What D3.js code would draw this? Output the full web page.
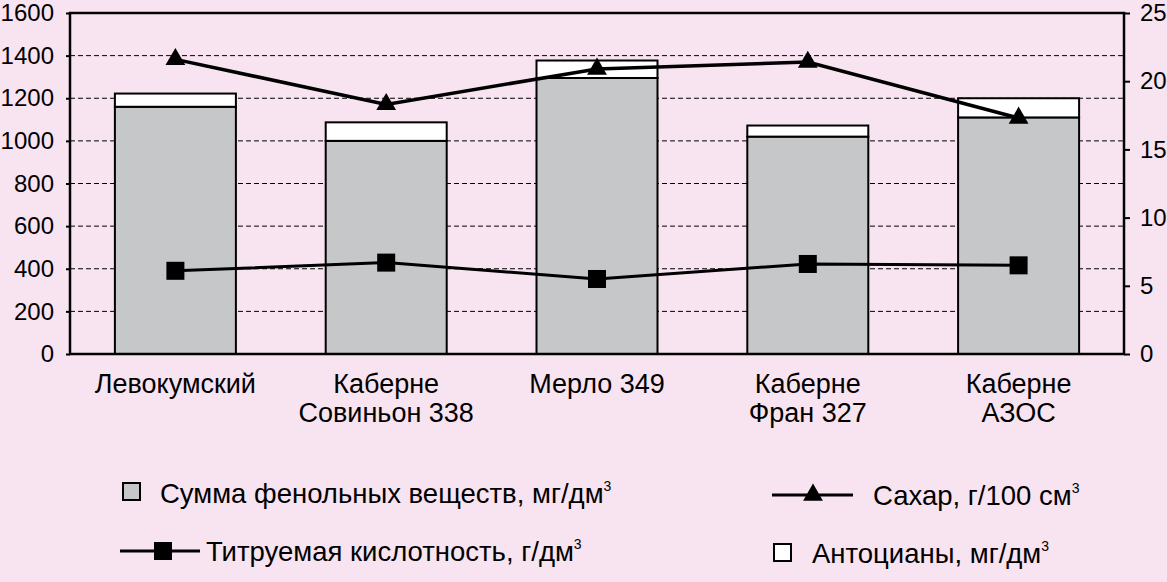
<!DOCTYPE html>
<html><head><meta charset="utf-8">
<script src="https://cdn.jsdelivr.net/npm/d3@7"></script>
<style>
html,body{margin:0;padding:0;background:#F8E3F0;}
svg{display:block;}
text{font-family:"Liberation Sans",Arial,sans-serif;fill:#000;}
</style></head>
<body><svg id="c" width="1167" height="582"></svg>
<script>
const categories = [["Левокумский"],["Каберне","Совиньон 338"],["Мерло 349"],["Каберне","Фран 327"],["Каберне","АЗОС"]];
const phenols = [1160, 1000, 1295, 1020, 1110];
const anthocyanins = [62, 87, 82, 52, 90];
const sugar = [21.6, 18.3, 20.9, 21.4, 17.3];
const acidity = [6.1, 6.7, 5.5, 6.6, 6.5];
const leftTicks = [0,200,400,600,800,1000,1200,1400,1600];
const rightTicks = [0,5,10,15,20,25];

const FF = '"Liberation Sans",Arial,sans-serif';
const svg = d3.select("#c");
const m = {l:70, r:1124, t:13, b:354};
const x = d3.scaleBand().domain(d3.range(categories.length)).range([m.l, m.r]).padding(0);
const yL = d3.scaleLinear().domain([0,1600]).range([m.b, m.t]);
const yR = d3.scaleLinear().domain([0,25]).range([m.b, m.t]);
const bw = x.bandwidth()*0.574;
const cx = i => x(i) + x.bandwidth()/2;

// gridlines
svg.append("g").selectAll("line").data(leftTicks.filter(d=>d>0 && d<1600)).join("line")
  .attr("x1",m.l).attr("x2",m.r).attr("y1",d=>yL(d)).attr("y2",d=>yL(d))
  .attr("stroke","#000").attr("stroke-width",1).attr("stroke-dasharray","5,3");

// bars
const bars = svg.append("g");
bars.selectAll("rect.ph").data(phenols).join("rect").attr("class","ph")
  .attr("x",(d,i)=>cx(i)-bw/2).attr("width",bw)
  .attr("y",d=>yL(d)).attr("height",d=>yL(0)-yL(d))
  .attr("fill","#C6C7C9").attr("stroke","#000").attr("stroke-width",2);
bars.selectAll("rect.an").data(anthocyanins).join("rect").attr("class","an")
  .attr("x",(d,i)=>cx(i)-bw/2).attr("width",bw)
  .attr("y",(d,i)=>yL(phenols[i]+d)).attr("height",(d,i)=>yL(phenols[i])-yL(phenols[i]+d))
  .attr("fill","#fff").attr("stroke","#000").attr("stroke-width",2);

// frame
svg.append("rect").attr("x",m.l).attr("y",m.t).attr("width",m.r-m.l).attr("height",m.b-m.t)
  .attr("fill","none").attr("stroke","#000").attr("stroke-width",2.5);

// axes
const axL = svg.append("g").attr("transform",`translate(${m.l},0)`)
  .call(d3.axisLeft(yL).tickValues(leftTicks).tickSize(4).tickPadding(12).tickFormat(d3.format("d")));
const axR = svg.append("g").attr("transform",`translate(${m.r},0)`)
  .call(d3.axisRight(yR).tickValues(rightTicks).tickSize(6).tickPadding(10).tickFormat(d3.format("d")));
[axL,axR].forEach(a=>{
  a.select(".domain").remove();
  a.selectAll(".tick line").attr("stroke","#000").attr("stroke-width",2);
  a.selectAll(".tick text").attr("font-size",24).style("font-family",FF).attr("fill","#000");
});

// category labels
const cl = svg.append("g");
categories.forEach((lines,i)=>{
  const t = cl.append("text").attr("x",cx(i)).attr("text-anchor","middle").attr("font-size",27);
  lines.forEach((s,j)=>t.append("tspan").attr("x",cx(i)).attr("y",393+j*29).text(s));
});

// lines
const lineS = d3.line().x((d,i)=>cx(i)).y(d=>yR(d));
svg.append("path").datum(sugar).attr("d",lineS).attr("fill","none").attr("stroke","#000").attr("stroke-width",3.5);
svg.append("path").datum(acidity).attr("d",lineS).attr("fill","none").attr("stroke","#000").attr("stroke-width",3);
const tri = d3.symbol().type(d3.symbolTriangle).size(170);
svg.append("g").selectAll("path").data(sugar).join("path")
  .attr("transform",(d,i)=>`translate(${cx(i)},${yR(d)})`).attr("d",tri).attr("fill","#000");
svg.append("g").selectAll("rect").data(acidity).join("rect")
  .attr("x",(d,i)=>cx(i)-9).attr("y",d=>yR(d)-9).attr("width",18).attr("height",18).attr("fill","#000");

// legend
const lg = svg.append("g");
function legText(xp,yp,main){
  const t = lg.append("text").attr("x",xp).attr("y",yp).attr("font-size",27.5);
  t.append("tspan").text(main);
  t.append("tspan").attr("font-size",14).attr("dy",-12).text("3");
}
lg.append("rect").attr("x",123).attr("y",483).attr("width",17).attr("height",17).attr("fill","#C6C7C9").attr("stroke","#000").attr("stroke-width",2);
legText(160,503,"Сумма фенольных веществ, мг/дм");
lg.append("line").attr("x1",120).attr("x2",200).attr("y1",551).attr("y2",551).attr("stroke","#000").attr("stroke-width",3);
lg.append("rect").attr("x",154).attr("y",542).attr("width",18).attr("height",18).attr("fill","#000");
legText(206,561,"Титруемая кислотность, г/дм");
lg.append("line").attr("x1",772).attr("x2",853).attr("y1",495).attr("y2",495).attr("stroke","#000").attr("stroke-width",3);
lg.append("path").attr("transform","translate(813,495)").attr("d",tri).attr("fill","#000");
legText(873,505,"Сахар, г/100 см");
lg.append("rect").attr("x",774).attr("y",544).attr("width",17).attr("height",17).attr("fill","#fff").attr("stroke","#000").attr("stroke-width",2);
legText(812,563,"Антоцианы, мг/дм");
</script></body></html>
